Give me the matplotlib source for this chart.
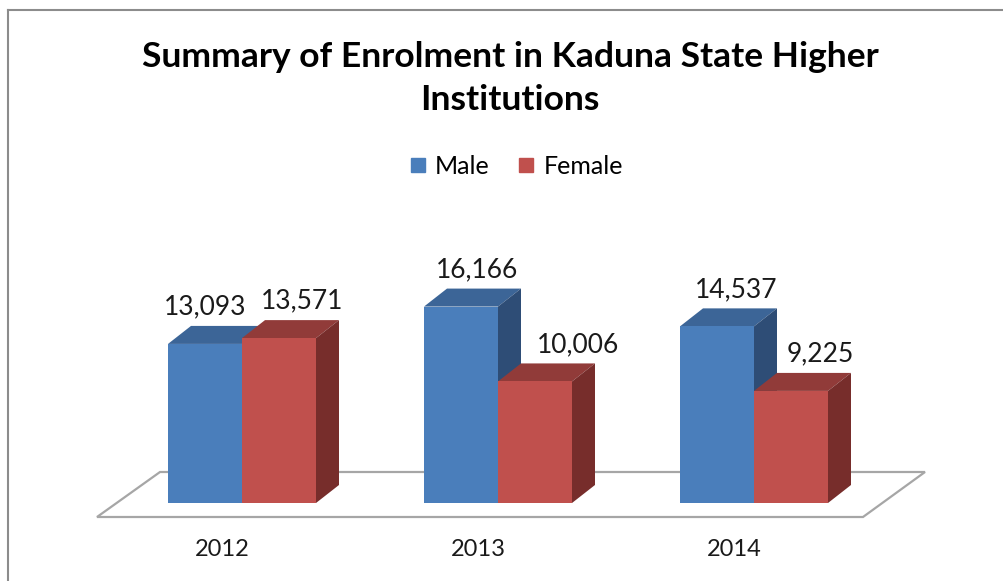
# Enrolment in Kaduna State higher institutions - 3D style column chart
import matplotlib.pyplot as plt
from matplotlib.patches import Polygon
from matplotlib.lines import Line2D

years = ["2012", "2013", "2014"]
male = [13093, 16166, 14537]
female = [13571, 10006, 9225]

FONT = "Lato"
W, H = 1004, 581

group_px = 256          # distance between year groups
x0_px = 242             # centre of first group
zero_px = 503           # baseline, from the top
px_per_unit = 0.01215   # vertical pixels per student
depth_dx, depth_dy = 23, 18

fig = plt.figure(figsize=(W / 100, H / 100), dpi=100)
ax = fig.add_axes([0, 0, 1, 1])
ax.set_xlim(-x0_px / group_px, (W - x0_px) / group_px)
ax.set_ylim(-(H - zero_px) / px_per_unit, zero_px / px_per_unit)
ax.axis("off")

# helpers: pixel offsets expressed in data units
ux = 1 / group_px
uy = 1 / px_per_unit
ddx, ddy = depth_dx * ux, depth_dy * uy
bar_w = 74 * ux

# floor plate
floor = Polygon([(-145 * ux, -14 * uy), (621 * ux, -14 * uy),
                 (683 * ux, 31 * uy), (-82 * ux, 31 * uy)],
                closed=True, facecolor="white", edgecolor="#a6a6a6", lw=1.6)
ax.add_patch(floor)

series = [
    ("Male", male, -bar_w, ("#4a7ebb", "#3c6597", "#2e4d76")),
    ("Female", female, 0, ("#c0504d", "#913b39", "#772d2b")),
]

for name, vals, shift, (c_front, c_top, c_side) in series:
    xs = [i + shift for i in range(len(years))]
    for x, v in zip(xs, vals):
        top = Polygon([(x, v), (x + bar_w, v), (x + bar_w + ddx, v + ddy), (x + ddx, v + ddy)],
                      closed=True, facecolor=c_top, edgecolor="none")
        side = Polygon([(x + bar_w, 0), (x + bar_w + ddx, ddy), (x + bar_w + ddx, v + ddy), (x + bar_w, v)],
                       closed=True, facecolor=c_side, edgecolor="none")
        ax.add_patch(top)
        ax.add_patch(side)
    ax.bar(xs, vals, width=bar_w, align="edge", color=c_front, edgecolor="none", zorder=3)

# value labels
label_dx = {"Male": [0, 16, 19], "Female": [23, 43, 29]}
for name, vals, shift, _ in series:
    for i, v in enumerate(vals):
        ax.text(i + shift + bar_w / 2 + label_dx[name][i] * ux, v + ddy + 19 * uy, f"{v:,}",
                ha="center", va="center", fontsize=19, family=FONT, color="#1a1a1a", zorder=5)

# year labels
for i, y in enumerate(years):
    ax.text(i - 20 * ux, -47 * uy, y, ha="center", va="center",
            fontsize=17, family=FONT, color="#1a1a1a")

# title
fig.text(510 / W, 1 - 57 / H, "Summary of Enrolment in Kaduna State Higher",
         ha="center", va="center", fontsize=25.5, fontweight="bold", family=FONT)
fig.text(510 / W, 1 - 100 / H, "Institutions",
         ha="center", va="center", fontsize=25.5, fontweight="bold", family=FONT)

# legend
handles = [Line2D([], [], marker="s", ls="none", color=c[0], markersize=10, label=n)
           for n, _, _, c in series]
fig.legend(handles=handles, loc="center", bbox_to_anchor=(516 / W, 1 - 166 / H),
           ncol=2, frameon=False, prop={"family": FONT, "size": 18},
           handlelength=0.7, handletextpad=0.35, columnspacing=1.1)

# chart border (left and top edges visible)
fig.add_artist(Line2D([8 / W, 8 / W], [0, 1 - 10 / H], color="#8c8c8c", lw=1.5))
fig.add_artist(Line2D([8 / W, 1], [1 - 10 / H, 1 - 10 / H], color="#8c8c8c", lw=1.5))

fig.savefig("out.png", dpi=100)
